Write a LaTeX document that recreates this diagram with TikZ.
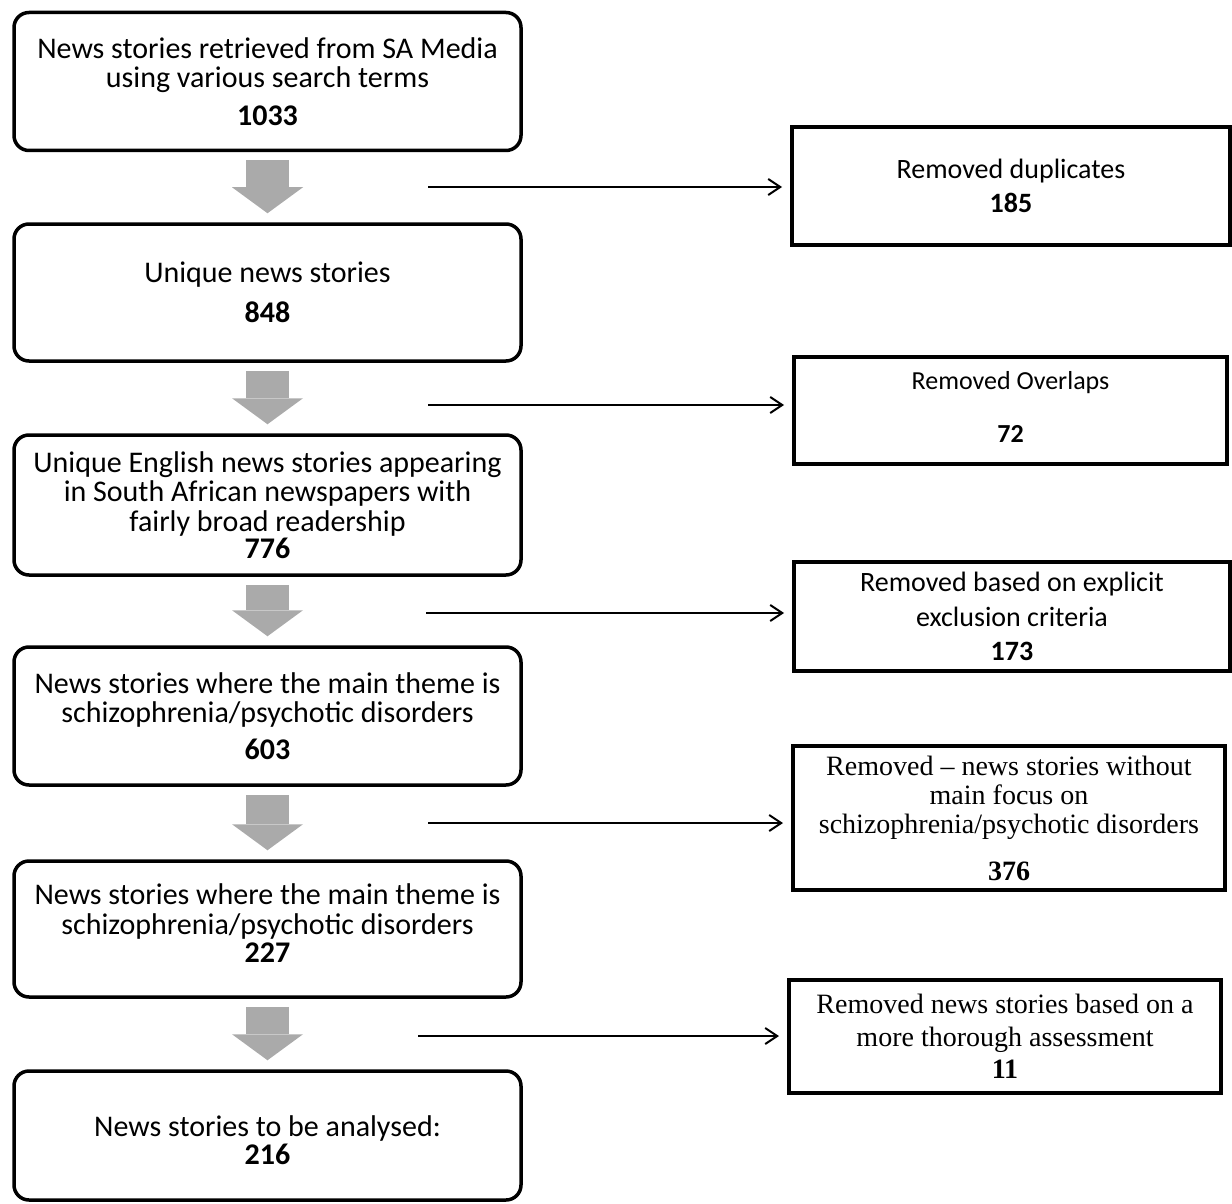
\documentclass[tikz,border=0pt]{standalone}
\usepackage{fontspec}
\setmainfont{Carlito}
\newfontfamily\timesfont{Liberation Serif}
\usetikzlibrary{arrows.meta}
\definecolor{arrowgray}{RGB}{170,170,170}

\begin{document}
\begin{tikzpicture}[x=0.5pt, y=-0.5pt,
  stage/.style={draw, line width=1.75pt, rounded corners=7.5pt, align=center, minimum width=253.5pt, minimum height=69pt, inner sep=0pt, font=\fontsize{15}{14.75}\selectfont},
  removed/.style={draw, line width=2pt, align=center, inner sep=0pt, font=\fontsize{14}{17}\selectfont},
  flow/.style={arrowgray, line width=21.5pt, -{Triangle[length=13pt,width=35.5pt,line width=0pt]}, shorten <=4pt, shorten >=4.5pt},
  drop/.style={line width=1pt, -{Straight Barb[length=6pt,width=8pt]}, shorten >=4pt}]
\useasboundingbox (0,0) rectangle (1232,1204);

% main stages
\node[stage] (found) at (267.5,81.5) {News stories retrieved from SA Media\\using various search terms\\[4.25pt]\textbf{1033}};
\node[stage, minimum height=68.5pt] (unique) at (267.5,292.5) {Unique news stories\\[5.25pt]\textbf{848}};
\node[stage, minimum height=70pt] (english) at (267.5,505) {Unique English news stories appearing\\in South African newspapers with\\fairly broad readership\\[-1.25pt]\textbf{776}};
\node[stage] (theme) at (267.5,716) {News stories where the main theme is\\schizophrenia/psychotic disorders\\[3.75pt]\textbf{603}};
\node[stage, minimum height=68pt] (focus) at (267.5,929) {News stories where the main theme is\\schizophrenia/psychotic disorders\\[-0.75pt]\textbf{227}\\[-8.75pt]};
\node[stage, minimum height=64.5pt] (final) at (267.5,1135.5) {News stories to be analysed:\\[-0.75pt]\textbf{216}\\[-19.75pt]};

% removed stories
\node[removed, minimum width=219pt, minimum height=59pt] (dup) at (1011,186) {Removed duplicates\\\textbf{185}};
\node[removed, minimum width=216.5pt, minimum height=53.5pt, font=\fontsize{13}{16}\selectfont] (overlap) at (1010.5,410.5) {Removed Overlaps\\[10.5pt]\textbf{72}\\[-12pt]};
\node[removed, minimum width=218pt, minimum height=54.5pt, font=\fontsize{14}{17.25}\selectfont] (excl) at (1012,616.5) {Removed based on explicit\\exclusion criteria\\\textbf{173}};
\node[removed, minimum width=216pt, minimum height=72pt, font=\timesfont\fontsize{14}{14.5}\selectfont] (nofocus) at (1009,818) {Removed – news stories without\\main focus on\\schizophrenia/psychotic disorders\\[9pt]\textbf{376}};
\node[removed, minimum width=216pt, minimum height=56.5pt, font=\timesfont\fontsize{14}{16.25}\selectfont] (assess) at (1005,1036.5) {Removed news stories based on a\\more thorough assessment\\\textbf{11}};

% arrows
\foreach \a/\b in {found/unique, unique/english, english/theme, theme/focus, focus/final}
  \draw[flow] (\a.south) -- (\b.north);
\foreach \x/\y/\n in {428/187/dup, 428/405/overlap, 426/613/excl, 428/823/nofocus, 418/1036/assess} {
  \coordinate (src) at (\x,\y);
  \draw[drop] (src) -- (src -| \n.west);
}
\end{tikzpicture}
\end{document}
